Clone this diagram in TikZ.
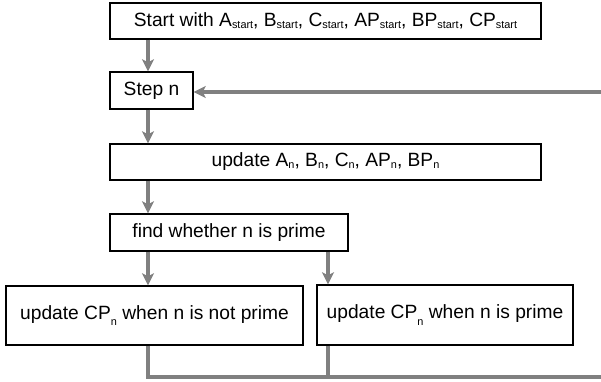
\documentclass[tikz,border=0pt]{standalone}
\usepackage{fontspec}
\setmainfont{Liberation Sans}
\usetikzlibrary{arrows.meta}
\newcommand{\subtxt}[1]{\raisebox{-0.2ex}{\fontsize{10.9}{11}\selectfont #1}}
\newcommand{\subtxtlow}[1]{\raisebox{-0.6ex}{\fontsize{10.9}{11}\selectfont #1}}
\definecolor{linegrey}{HTML}{808080}
\tikzset{
  box/.style={draw=black, line width=1.4pt, fill=white, inner sep=0pt, align=center,
    font=\fontsize{19.2}{22}\selectfont},
  flow/.style={draw=linegrey, line width=4pt},
  arr/.style={flow, -{Stealth[length=12pt, width=12pt, inset=3pt]}},
}
\begin{document}
\begin{tikzpicture}[x=1pt, y=-1pt]
\useasboundingbox (0,0) rectangle (601,381);
\coordinate (colL) at (148,0);
\coordinate (colR) at (328,0);
\coordinate (bot) at (0,376.5);
\coordinate (edgeB) at (601,376.5);
\coordinate (edgeT) at (601,92);

\node[box, minimum width=431pt, minimum height=36pt] (start) at (325.5,21)
  {Start with A\subtxt{start}, B\subtxt{start}, C\subtxt{start}, AP\subtxt{start}, BP\subtxt{start}, CP\subtxt{start}};
\node[box, minimum width=83pt, minimum height=37pt] (stepn) at (151.5,90.5) {Step n};
\node[box, minimum width=431pt, minimum height=36pt] (upd) at (325.5,162)
  {update A\subtxt{n}, B\subtxt{n}, C\subtxt{n}, AP\subtxt{n}, BP\subtxt{n}};
\node[box, minimum width=238pt, minimum height=37pt] (find) at (229,232.5) {find whether n is prime};
\node[box, minimum width=297pt, minimum height=59pt] (notprime) at (154.5,315.5)
  {update CP\subtxtlow{n} when n is not prime};
\node[box, minimum width=256pt, minimum height=60pt] (prime) at (445,315)
  {update CP\subtxtlow{n} when n is prime};

\draw[arr] (start.south -| colL) -- (stepn.north -| colL);
\draw[arr] (stepn.south -| colL) -- (upd.north -| colL);
\draw[arr] (upd.south -| colL) -- (find.north -| colL);
\draw[arr] (find.south -| colL) -- (notprime.north -| colL);
\draw[arr] (find.south -| colR) -- (prime.north -| colR);

\draw[flow] (notprime.south -| colL) -- (colL |- bot) -- (edgeB);
\draw[flow] (prime.south -| colR) -- (colR |- bot);
\draw[arr] (edgeT) -- (edgeT -| stepn.east);
\end{tikzpicture}
\end{document}
